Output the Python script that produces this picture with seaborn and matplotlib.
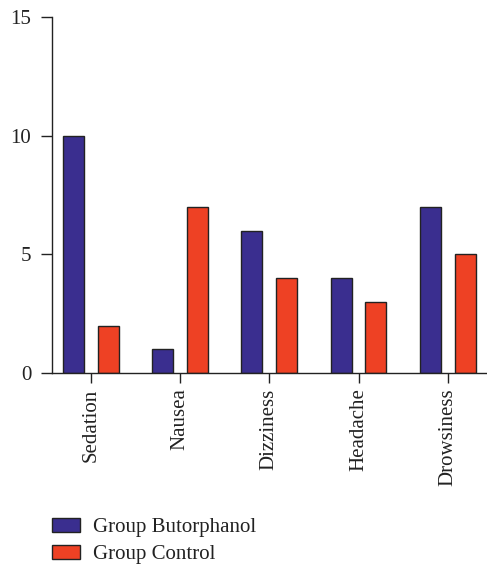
import matplotlib
matplotlib.use("Agg")
import matplotlib.pyplot as plt
import seaborn as sns
import pandas as pd

categories = ["Sedation", "Nausea", "Dizziness", "Headache", "Drowsiness"]
butorphanol = [10, 1, 6, 4, 7]
control = [2, 7, 4, 3, 5]
groups = ["Group Butorphanol", "Group Control"]
colors = ["#3a2e8f", "#ee4124"]
yticks = [0, 5, 10, 15]

df = pd.DataFrame({
    "category": categories * 2,
    "value": butorphanol + control,
    "group": [groups[0]] * len(categories) + [groups[1]] * len(categories),
})

sns.set_style("white")
plt.rcParams["font.family"] = ["Liberation Serif", "DejaVu Serif"]

fig = plt.figure(figsize=(4.87, 5.66), dpi=100)
ax = fig.add_axes([52 / 487, 193 / 566, 1 - 52 / 487, 356 / 566])

sns.barplot(data=df, x="category", y="value", hue="group", order=categories,
            hue_order=groups, palette=colors, width=0.78, gap=0.4,
            edgecolor="#222222", linewidth=1.0, saturation=1, errorbar=None,
            legend=True, ax=ax)

ax.set_xlim(-0.436, 4.44)
ax.set_ylim(0, 15)
ax.set_yticks(yticks)
ax.set_xlabel("")
ax.set_ylabel("")
for s in ["top", "right"]:
    ax.spines[s].set_visible(False)
for s in ["left", "bottom"]:
    ax.spines[s].set_color("#222222")
    ax.spines[s].set_linewidth(1.0)
ax.tick_params(axis="y", direction="out", length=8, width=1.0, color="#222222",
               labelsize=15, pad=7, left=True)
ax.tick_params(axis="x", direction="out", length=7, width=1.0, color="#222222",
               labelsize=15, pad=4, bottom=True, labelrotation=90)
for lab in ax.get_xticklabels() + ax.get_yticklabels():
    lab.set_color("#222222")

handles, labels = ax.get_legend_handles_labels()
ax.get_legend().remove()
leg = fig.legend(handles, labels, loc="upper left",
                 bbox_to_anchor=(52 / 487, 1 - 518 / 566), frameon=False,
                 borderpad=0, borderaxespad=0, fontsize=15,
                 handlelength=1.35, handleheight=0.67, handletextpad=0.62,
                 labelspacing=0.35)
for t in leg.get_texts():
    t.set_color("#222222")

fig.savefig("out.png", dpi=100)
